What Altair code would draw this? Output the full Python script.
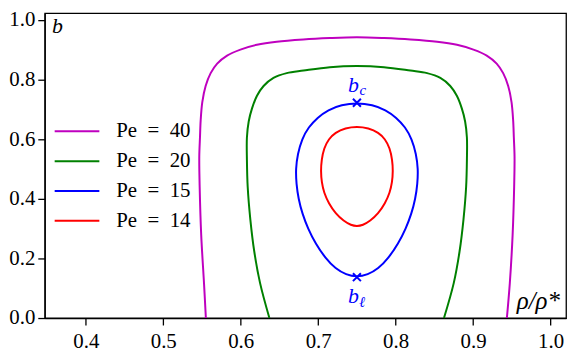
import altair as alt
import pandas as pd

# ---- data (x = rho/rho*, b) ----
pe40_x = [0.555, 0.5526, 0.549, 0.547, 0.5465, 0.5474, 0.5483, 0.5504, 0.5547, 0.5612, 0.5696,
          0.5824, 0.5996, 0.6209, 0.6465, 0.6808, 0.715, 0.75, 0.785, 0.8192, 0.8535, 0.8791,
          0.9004, 0.9176, 0.9304, 0.9388, 0.9453, 0.9496, 0.9517, 0.9526, 0.9535, 0.953, 0.951,
          0.9474, 0.9436]
pe40_b = [0.0, 0.117, 0.278, 0.44, 0.54, 0.605, 0.6625, 0.724, 0.778, 0.821, 0.853,
          0.880, 0.900, 0.916, 0.9265, 0.934, 0.9385, 0.941, 0.9385, 0.934, 0.9265, 0.916,
          0.900, 0.880, 0.853, 0.821, 0.778, 0.724, 0.6625, 0.605, 0.54, 0.44, 0.278,
          0.117, 0.0]

pe20_x = [0.637, 0.625, 0.6175, 0.6124, 0.609, 0.608, 0.608, 0.6103, 0.6145, 0.621, 0.6295,
          0.6423, 0.6594, 0.681, 0.715, 0.75, 0.785, 0.819, 0.8406, 0.8577, 0.8705, 0.879,
          0.8855, 0.8897, 0.892, 0.892, 0.891, 0.8876, 0.8825, 0.875, 0.8624]
pe20_b = [0.0, 0.117, 0.223, 0.331, 0.44, 0.53, 0.605, 0.659, 0.702, 0.745, 0.778,
          0.805, 0.821, 0.8295, 0.841, 0.845, 0.841, 0.8295, 0.821, 0.805, 0.778, 0.745,
          0.702, 0.659, 0.605, 0.53, 0.44, 0.331, 0.223, 0.117, 0.0]

pe15_x = [0.75, 0.73, 0.7128, 0.699, 0.6875, 0.679, 0.6735, 0.671, 0.6718, 0.6745, 0.6795,
          0.6868, 0.6965, 0.7095, 0.7225, 0.736, 0.75, 0.764, 0.7775, 0.7905, 0.8035, 0.8132,
          0.8205, 0.8255, 0.8282, 0.829, 0.8265, 0.821, 0.8125, 0.801, 0.7872, 0.77]
pe15_b = [0.7217, 0.715, 0.698, 0.672, 0.640, 0.600, 0.550, 0.500, 0.450, 0.400, 0.350,
          0.300, 0.250, 0.200, 0.165, 0.145, 0.137, 0.145, 0.165, 0.200, 0.250, 0.300,
          0.350, 0.400, 0.450, 0.500, 0.550, 0.600, 0.640, 0.672, 0.698, 0.715]

pe14_x = [0.75, 0.735, 0.722, 0.7135, 0.7075, 0.7043, 0.7034, 0.7045, 0.7075, 0.7135, 0.7225,
          0.733, 0.7425, 0.75, 0.7575, 0.767, 0.7775, 0.7865, 0.7925, 0.7955, 0.7966, 0.7957,
          0.7925, 0.7865, 0.778, 0.765]
pe14_b = [0.642, 0.637, 0.622, 0.600, 0.570, 0.530, 0.493, 0.455, 0.420, 0.385, 0.350,
          0.325, 0.311, 0.3074, 0.311, 0.325, 0.350, 0.385, 0.420, 0.455, 0.493, 0.530,
          0.570, 0.600, 0.622, 0.637]

series_labels = ["Pe\u2002=\u200240", "Pe\u2002=\u200220", "Pe\u2002=\u200215", "Pe\u2002=\u200214"]
series_colors = ["#bf00bf", "#008000", "#0000ff", "#ff0000"]

marker_x = [0.75, 0.75]
marker_b = [0.7217, 0.137]

x_ticks = [0.4, 0.5, 0.6, 0.7, 0.8, 0.9, 1.0]
y_ticks = [0.0, 0.2, 0.4, 0.6, 0.8, 1.0]

FONT = "Liberation Serif"


def frame(xs, bs, label):
    return pd.DataFrame({"x": xs, "b": bs, "series": label, "idx": range(len(xs))})


open_df = pd.concat([frame(pe40_x, pe40_b, series_labels[0]),
                     frame(pe20_x, pe20_b, series_labels[1])])
closed15 = frame(pe15_x, pe15_b, series_labels[2])
closed14 = frame(pe14_x, pe14_b, series_labels[3])

xs = alt.Scale(domain=[0.347, 1.02], nice=False, zero=False)
ys = alt.Scale(domain=[0.0, 1.022], nice=False, zero=False)
color = alt.Color("series:N",
                  scale=alt.Scale(domain=series_labels, range=series_colors),
                  sort=series_labels,
                  legend=alt.Legend(title=None, orient="none", legendX=9, legendY=104,
                                    symbolType="stroke", symbolSize=2025, symbolStrokeWidth=2,
                                    labelFont=FONT, labelFontSize=21, labelColor="black",
                                    labelOffset=16, clipHeight=30, rowPadding=0, padding=0))

X = alt.X("x:Q", scale=xs, axis=alt.Axis(values=x_ticks, format=".1f", title=None, labelPadding=6))
Y = alt.Y("b:Q", scale=ys, axis=alt.Axis(values=y_ticks, format=".1f", title=None, labelPadding=3))

open_lines = alt.Chart(open_df).mark_line(strokeWidth=2, interpolate="catmull-rom").encode(
    x=X, y=Y, color=color, order="idx:Q", detail="series:N")
l15 = alt.Chart(closed15).mark_line(strokeWidth=2, interpolate="basis-closed").encode(
    x=X, y=Y, color=color, order="idx:Q")
l14 = alt.Chart(closed14).mark_line(strokeWidth=2, interpolate="basis-closed").encode(
    x=X, y=Y, color=color, order="idx:Q")

markers = alt.Chart(pd.DataFrame({"x": marker_x, "b": marker_b})).mark_point(
    shape="M-1,-1L1,1M-1,1L1,-1", size=64, filled=False, strokeWidth=2, color="#0000ff", opacity=1
).encode(x=X, y=Y)

ann = pd.DataFrame({
    "x": [0.3635, 0.9564, 0.7455, 0.7577, 0.7455, 0.7567],
    "b": [0.954, 0.0296, 0.757, 0.7466, 0.0518, 0.0356],
    "t": ["b", "ρ/ρ*", "b", "c", "b", "ℓ"],
    "fs": [22, 25, 22, 15, 22, 15],
    "c": ["black", "black", "#0000ff", "#0000ff", "#0000ff", "#0000ff"],
    "al": ["center", "left", "center", "center", "center", "center"],
})
texts = []
for _, r in ann.iterrows():
    texts.append(alt.Chart(pd.DataFrame([r])).mark_text(
        font=FONT, fontStyle="italic", fontSize=int(r["fs"]), color=r["c"],
        align=r["al"], baseline="alphabetic").encode(x=X, y=Y, text="t:N"))

chart = alt.layer(open_lines, l15, l14, markers, *texts).properties(
    width=525, height=307,
    autosize=alt.AutoSizeParams(type="none"),
    padding={"left": 37, "top": 4, "right": 8, "bottom": 35},
).configure_view(stroke="black", strokeWidth=1.3).configure_axis(
    grid=False, domainColor="black", domainWidth=1.3, tickColor="black", tickWidth=1.3,
    tickSize=7, labelFont=FONT, labelFontSize=21, labelColor="black"
)

chart.save("out.html", embed_options={"renderer": "svg", "actions": False})
